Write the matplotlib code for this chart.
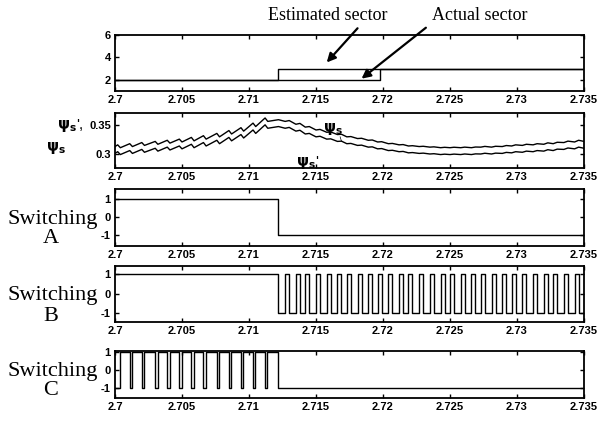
import numpy as np
import matplotlib
matplotlib.use('Agg')
import matplotlib.pyplot as plt

plt.rcParams['font.family'] = ['Liberation Sans', 'DejaVu Sans']
plt.rcParams['mathtext.fontset'] = 'dejavusans'

W, H = 602, 421

# x axis
x_ticks = [2.7, 2.705, 2.71, 2.715, 2.72, 2.725, 2.73, 2.735]
x_labels = ['2.7', '2.705', '2.71', '2.715', '2.72', '2.725', '2.73', '2.735']

# sector panel
est_t = [2.7, 2.7122, 2.735]
est_v = [2, 3, 3]
act_t = [2.7, 2.7198, 2.735]
act_v = [2, 3, 3]

# switching C dips (low intervals) before 2.7122, then C stays low
c_dips = [2.7002, 2.7011, 2.7020, 2.7030, 2.7039, 2.7048, 2.7057, 2.7066,
          2.7076, 2.7085, 2.7094, 2.7103, 2.7112]
c_dip_w = 0.00018
t_switch = 2.7122
# switching B high pulses after 2.7122
b_pulses = [2.7127, 2.7135, 2.7142, 2.7150, 2.7158, 2.7166, 2.7173, 2.7181,
            2.7189, 2.7196, 2.7204, 2.7212, 2.7219, 2.7227, 2.7235, 2.7243,
            2.7250, 2.7258, 2.7266, 2.7273, 2.7281, 2.7289, 2.7296, 2.7304,
            2.7312, 2.7320, 2.7327, 2.7335, 2.7343]
b_pulse_w = 0.0003

# flux curves: psi_s (upper) and psi_s' (lower)
psi_start = [0.313, 0.301]
psi_mid = [0.360, 0.348]
psi_end = [0.322, 0.310]
psi_s_pk1 = [0.316, 0.318, 0.320, 0.322, 0.324, 0.326, 0.329, 0.332, 0.336, 0.341, 0.346, 0.354, 0.363]
psi_s_tr1 = [0.311, 0.313, 0.315, 0.317, 0.319, 0.321, 0.323, 0.326, 0.330, 0.335, 0.340, 0.348, 0.357]
psi_s_tr2 = [0.357, 0.352, 0.347, 0.342, 0.338, 0.334, 0.330, 0.327, 0.324, 0.321, 0.318, 0.316, 0.314, 0.313, 0.312,
             0.311, 0.311, 0.311, 0.311, 0.312, 0.312, 0.313, 0.314, 0.315, 0.316, 0.317, 0.318, 0.320, 0.321]
psi_s_pk2 = [0.3585, 0.3535, 0.348, 0.343, 0.3385, 0.3345, 0.3305, 0.3275, 0.3245, 0.3215, 0.3185, 0.3165, 0.3145,
             0.3135, 0.3125, 0.3117, 0.3118, 0.312, 0.3122, 0.3133, 0.3135, 0.3148, 0.316, 0.317, 0.318, 0.3195,
             0.3205, 0.3225, 0.324]
psi_e_pk1 = [0.304, 0.306, 0.308, 0.310, 0.312, 0.314, 0.317, 0.320, 0.324, 0.329, 0.334, 0.342, 0.351]
psi_e_tr1 = [0.299, 0.301, 0.303, 0.305, 0.307, 0.309, 0.311, 0.314, 0.318, 0.323, 0.328, 0.336, 0.345]
psi_e_tr2 = [0.345, 0.340, 0.335, 0.330, 0.326, 0.322, 0.318, 0.315, 0.312, 0.309, 0.306, 0.304, 0.302, 0.301, 0.300,
             0.299, 0.299, 0.299, 0.299, 0.300, 0.300, 0.301, 0.302, 0.303, 0.304, 0.305, 0.306, 0.308, 0.309]
psi_e_pk2 = [0.3465, 0.3415, 0.336, 0.331, 0.3265, 0.3225, 0.3185, 0.3155, 0.3125, 0.3095, 0.3065, 0.3045, 0.3025,
             0.3015, 0.3005, 0.2997, 0.2998, 0.300, 0.3002, 0.3013, 0.3015, 0.3028, 0.304, 0.305, 0.306, 0.3075,
             0.3085, 0.3105, 0.312]


def psi_curve(i, pk1, tr1, tr2, pk2):
    t = [2.7]
    v = [psi_start[i]]
    for d, p, q in zip(c_dips, pk1, tr1):
        t += [d, d + 0.0002]
        v += [p, q]
    t.append(t_switch)
    v.append(psi_mid[i])
    for b, q, p in zip(b_pulses, tr2, pk2):
        t += [b, b + b_pulse_w]
        v += [q, p]
    t.append(2.735)
    v.append(psi_end[i])
    return t, v


def square(start_level, edges):
    # edges: list of (time, new level)
    t = [2.7]
    v = [start_level]
    for e, lv in edges:
        t += [e, e]
        v += [v[-1], lv]
    t.append(2.735)
    v.append(v[-1])
    return t, v


def px(x, y):
    return x / W, 1 - y / H


fig = plt.figure(figsize=(W / 100, H / 100), dpi=100)

left, right = 115, 584
panels = [(35, 91), (113, 168), (189, 246), (266, 322), (351, 398)]
axes = []
for top, bot in panels:
    ax = fig.add_axes([left / W, 1 - bot / H, (right - left) / W, (bot - top) / H])
    ax.set_xlim(2.7, 2.735)
    ax.set_xticks(x_ticks)
    ax.set_xticklabels(x_labels, fontsize=8, fontweight='bold')
    ax.tick_params(direction='in', top=True, right=True, length=3, width=1, pad=3)
    for s in ax.spines.values():
        s.set_linewidth(1.3)
    axes.append(ax)

# panel 1: sectors
ax = axes[0]
ax.step(est_t, est_v, where='post', color='k', lw=1)
ax.step(act_t, act_v, where='post', color='k', lw=1)
ax.set_ylim(1, 6)
ax.set_yticks([2, 4, 6])
ax.set_yticklabels(['2', '4', '6'], fontsize=8, fontweight='bold')
ax.text(2.7159, 7.75, 'Estimated sector', fontsize=13, family='Liberation Serif',
        ha='center', va='center', clip_on=False)
ax.text(2.7272, 7.75, 'Actual sector', fontsize=13, family='Liberation Serif',
        ha='center', va='center', clip_on=False)
arrow = dict(arrowstyle='-|>', color='k', lw=1.6, mutation_scale=13, shrinkA=0, shrinkB=0)
ax.annotate('', xy=(2.7158, 3.55), xytext=(2.7181, 6.6), annotation_clip=False, arrowprops=arrow)
ax.annotate('', xy=(2.7184, 2.1), xytext=(2.7232, 6.65), annotation_clip=False, arrowprops=arrow)

# panel 2: flux
ax = axes[1]
t1, v1 = psi_curve(0, psi_s_pk1, psi_s_tr1, psi_s_tr2, psi_s_pk2)
t2, v2 = psi_curve(1, psi_e_pk1, psi_e_tr1, psi_e_tr2, psi_e_pk2)
ax.plot(t1, v1, color='k', lw=1)
ax.plot(t2, v2, color='k', lw=1)
ax.set_ylim(0.2755, 0.3717)
ax.set_yticks([0.3, 0.35])
ax.set_yticklabels(['0.3', '0.35'], fontsize=8, fontweight='bold')
ax.text(2.7155, 0.3435, r'$\mathbf{\psi_s}$', fontsize=11, ha='left', va='center')
ax.text(2.7135, 0.2850, r"$\mathbf{\psi_s}$'", fontsize=11, ha='left', va='center')
ax.plot([2.7169, 2.7168], [0.3225, 0.3300], color='k', lw=0.5)
fig.text(*px(84, 126), r"$\mathbf{\psi_s}$',", fontsize=11, ha='right', va='center')
fig.text(*px(46, 148), r'$\mathbf{\psi_s}$', fontsize=11, ha='left', va='center')

# panels 3-5: switching
sa_t, sa_v = square(1, [(t_switch, -1)])
sb_edges = [(t_switch, -1)]
for b in b_pulses:
    sb_edges += [(b, 1), (b + b_pulse_w, -1)]
sb_t, sb_v = square(1, sb_edges)
sc_edges = []
for d in c_dips:
    sc_edges += [(d, -1), (d + c_dip_w, 1)]
sc_edges.append((t_switch, -1))
sc_t, sc_v = square(-1, sc_edges)

ylims = [(-1.6, 1.55), (-1.45, 1.4), (-1.57, 1.05)]
for ax, (tt, vv), yl, name in zip(axes[2:], [(sa_t, sa_v), (sb_t, sb_v), (sc_t, sc_v)], ylims, 'ABC'):
    ax.plot(tt, vv, color='k', lw=1)
    ax.set_ylim(*yl)
    ax.set_yticks([-1, 0, 1])
    ax.set_yticklabels(['-1', '0', '1'], fontsize=8, fontweight='bold')
    y0 = ax.transData.transform((2.7, 0))[1]
    ym = ax.transData.transform((2.7, -1))[1]
    fig.text(98 / W, y0 / H - 2 / H, 'Switching', fontsize=16, family='Liberation Serif',
             ha='right', va='center')
    fig.text(51 / W, ym / H - 3 / H, name, fontsize=16, family='Liberation Serif',
             ha='center', va='center')

fig.savefig('out.png', dpi=100)
